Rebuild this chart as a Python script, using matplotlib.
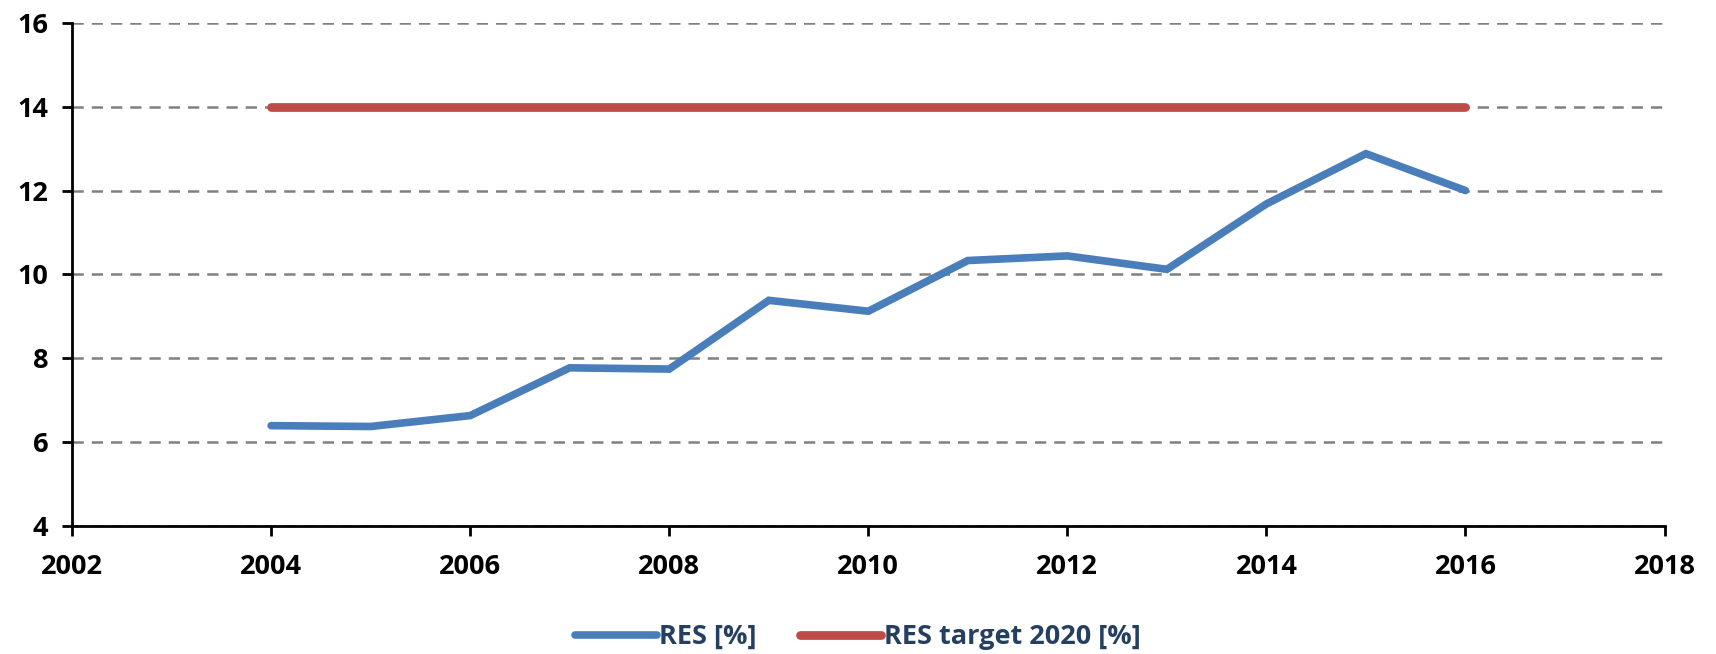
import numpy as np
import matplotlib.pyplot as plt

years = [2004, 2005, 2006, 2007, 2008, 2009, 2010, 2011, 2012, 2013, 2014, 2015, 2016]
res_share = [6.39, 6.37, 6.63, 7.77, 7.74, 9.38, 9.12, 10.33, 10.44, 10.12, 11.68, 12.88, 12.0]
res_target = [14] * len(years)

x_ticks = np.arange(2002, 2019, 2)
y_ticks = np.arange(4, 17, 2)

plt.rcParams['font.family'] = ['Open Sans', 'DejaVu Sans']
tick_fontsize = 19.5
legend_fontsize = 19.5

fig = plt.figure(figsize=(17.16, 6.54), dpi=100)
ax = fig.add_axes([0.042, 0.196, 0.928, 0.769])

ax.plot(years, res_share, '-', color='#4A7EBB', linewidth=5.5, solid_capstyle='round',
        solid_joinstyle='miter', label='RES [%]', zorder=3)
ax.plot(years, res_target, '-', color='#BE4B48', linewidth=6.3, solid_capstyle='round',
        label='RES target 2020 [%]', zorder=3)

ax.set_xlim(2002, 2018)
ax.set_ylim(4, 16)
ax.set_xticks(x_ticks)
ax.set_yticks(y_ticks)
ax.yaxis.grid(True, color='#808080', linewidth=1.8, linestyle=(0, (4.5, 3.2)))
ax.set_axisbelow(True)

for side in ['top', 'right']:
    ax.spines[side].set_visible(False)
for side in ['left', 'bottom']:
    ax.spines[side].set_linewidth(2)
    ax.spines[side].set_color('black')

ax.tick_params(axis='both', which='major', labelsize=tick_fontsize, length=7, width=2,
               direction='out')
ax.tick_params(axis='x', pad=13)
ax.tick_params(axis='y', pad=10)
for lbl in ax.get_xticklabels() + ax.get_yticklabels():
    lbl.set_fontweight('bold')

leg = fig.legend(loc='center', bbox_to_anchor=(0.5, 0.026), ncol=2, frameon=False,
                 fontsize=legend_fontsize, handlelength=3.0, columnspacing=1.6,
                 handletextpad=0.1)
for txt in leg.get_texts():
    txt.set_fontweight('bold')
    txt.set_color('#243F60')

fig.savefig('out.png', dpi=100)
